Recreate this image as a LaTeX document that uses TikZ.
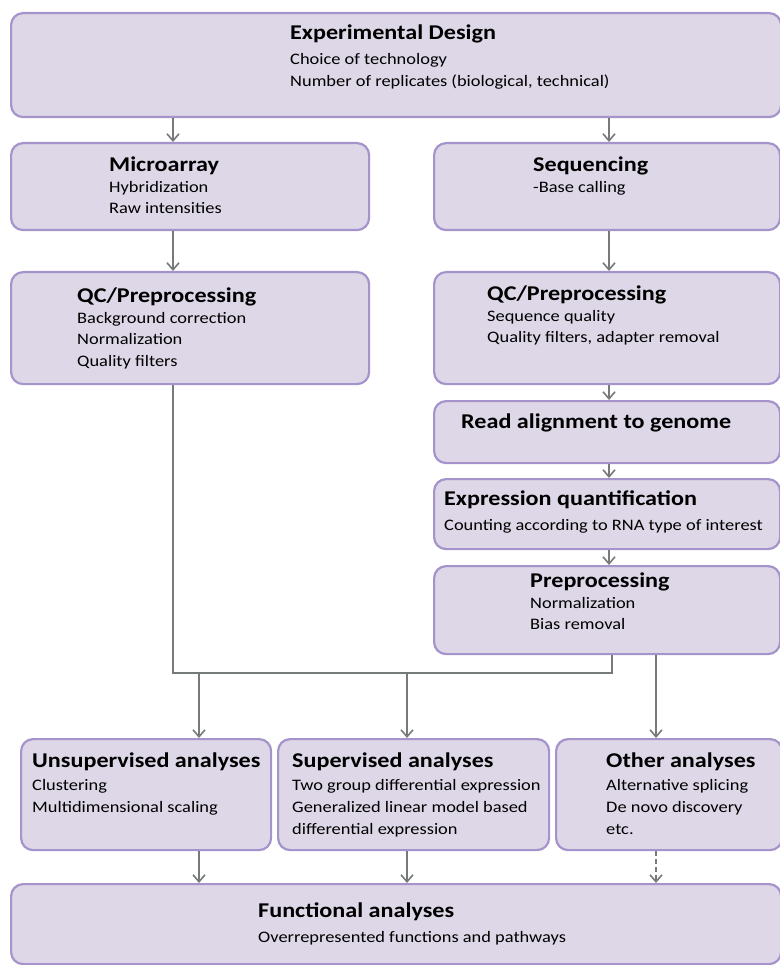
\documentclass[tikz,border=0pt]{standalone}
\usepackage{fontspec}
\setmainfont[FakeStretch=1.15]{Carlito}
\usetikzlibrary{arrows.meta}
\definecolor{boxfill}{RGB}{221,215,231}
\definecolor{boxline}{RGB}{165,148,203}
\definecolor{arrgray}{RGB}{118,122,122}
\tikzset{
  box/.style={draw=boxline, fill=boxfill, line width=2.2pt, rounded corners=12pt, anchor=north west, inner sep=0pt},
  ttl/.style={anchor=base west, inner sep=0pt, font=\fontsize{21}{24}\selectfont\bfseries},
  bdy/.style={anchor=base west, inner sep=0pt, font=\fontsize{16}{19}\selectfont},
  arr/.style={draw=arrgray, line width=1.6pt, -{Straight Barb[length=7pt,width=12pt,line width=1.6pt]}},
  ln/.style={draw=arrgray, line width=1.6pt}
}
\begin{document}
\begin{tikzpicture}[x=1pt,y=-1pt]
\useasboundingbox (0,0) rectangle (779,965);
% boxes
\node[box, minimum width=770pt, minimum height=104pt] (ed) at (10,12) {};
\node[box, minimum width=358pt, minimum height=87pt] (mic) at (10,142) {};
\node[box, minimum width=346pt, minimum height=87pt] (seq) at (433,142) {};
\node[box, minimum width=358pt, minimum height=112pt] (qcl) at (10,271) {};
\node[box, minimum width=346pt, minimum height=112pt] (qcr) at (433,271) {};
\node[box, minimum width=346pt, minimum height=62pt] (ra) at (433,400) {};
\node[box, minimum width=346pt, minimum height=70pt] (eq) at (433,478) {};
\node[box, minimum width=346pt, minimum height=88pt] (pp) at (433,565) {};
\node[box, minimum width=250pt, minimum height=111pt] (un) at (20,738) {};
\node[box, minimum width=271pt, minimum height=111pt] (su) at (277,738) {};
\node[box, minimum width=226pt, minimum height=111pt] (ot) at (555,738) {};
\node[box, minimum width=770pt, minimum height=80pt] (fa) at (10,883) {};
% texts
\node[ttl] (edT) at (290,40) {Experimental Design};
\node[bdy] (edA) at (290,65) {Choice of technology};
\node[bdy] (edB) at (290,87) {Number of replicates (biological, technical)};
\node[ttl] (micT) at (109,172) {Microarray};
\node[bdy] (micA) at (109,193) {Hybridization};
\node[bdy] (micB) at (109,214) {Raw intensities};
\node[ttl] (seqT) at (533,172) {Sequencing};
\node[bdy] (seqA) at (533,193) {-Base calling};
\node[ttl] (qclT) at (77,302) {QC/Preprocessing};
\node[bdy] (qclA) at (77,323) {Background correction};
\node[bdy] (qclB) at (77,344) {Normalization};
\node[bdy] (qclC) at (77,366) {Quality filters};
\node[ttl] (qcrT) at (487,300) {QC/Preprocessing};
\node[bdy] (qcrA) at (487,321) {Sequence quality};
\node[bdy] (qcrB) at (487,342) {Quality filters, adapter removal};
\node[ttl] (raT) at (461,428) {Read alignment to genome};
\node[ttl] (eqT) at (444,505) {Expression quantification};
\node[bdy] (eqA) at (444,530) {Counting according to RNA type of interest};
\node[ttl] (ppT) at (530,587) {Preprocessing};
\node[bdy] (ppA) at (530,608) {Normalization};
\node[bdy] (ppB) at (530,629) {Bias removal};
\node[ttl] (unT) at (32,767) {Unsupervised analyses};
\node[bdy] (unA) at (32,790) {Clustering};
\node[bdy] (unB) at (32,812) {Multidimensional scaling};
\node[ttl] (suT) at (292,767) {Supervised analyses};
\node[bdy] (suA) at (292,790) {Two group differential expression};
\node[bdy] (suB) at (292,812) {Generalized linear model based};
\node[bdy] (suC) at (292,834) {differential expression};
\node[ttl] (otT) at (606,767) {Other analyses};
\node[bdy] (otA) at (606,790) {Alternative splicing};
\node[bdy] (otB) at (606,812) {De novo discovery};
\node[bdy] (otC) at (606,834) {etc.};
\node[ttl] (faT) at (258,917) {Functional analyses};
\node[bdy] (faA) at (258,942) {Overrepresented functions and pathways};
% connector columns
\coordinate (xL) at (173,0);
\coordinate (xR) at (609,0);
\coordinate (xM) at (612,0);
\coordinate (x1) at (199,0);
\coordinate (x2) at (407,0);
\coordinate (x3) at (656,0);
\coordinate (jn) at (0,673);
% connectors
\draw[arr] (ed.south -| xL) -- (mic.north -| xL);
\draw[arr] (ed.south -| xR) -- (seq.north -| xR);
\draw[arr] (mic.south -| xL) -- (qcl.north -| xL);
\draw[arr] (seq.south -| xR) -- (qcr.north -| xR);
\draw[arr] (qcr.south -| xR) -- (ra.north -| xR);
\draw[arr] (ra.south -| xR) -- (eq.north -| xR);
\draw[arr] (eq.south -| xR) -- (pp.north -| xR);
\draw[ln] (qcl.south -| xL) -- (jn -| xL) -- (jn -| xM) -- (pp.south -| xM);
\draw[arr] (jn -| x1) -- (un.north -| x1);
\draw[arr] (jn -| x2) -- (su.north -| x2);
\draw[arr] (pp.south -| x3) -- (ot.north -| x3);
\draw[arr] (un.south -| x1) -- (fa.north -| x1);
\draw[arr] (su.south -| x2) -- (fa.north -| x2);
\draw[arr, dashed, dash pattern=on 5pt off 3pt] (ot.south -| x3) -- (fa.north -| x3);
\end{tikzpicture}
\end{document}
